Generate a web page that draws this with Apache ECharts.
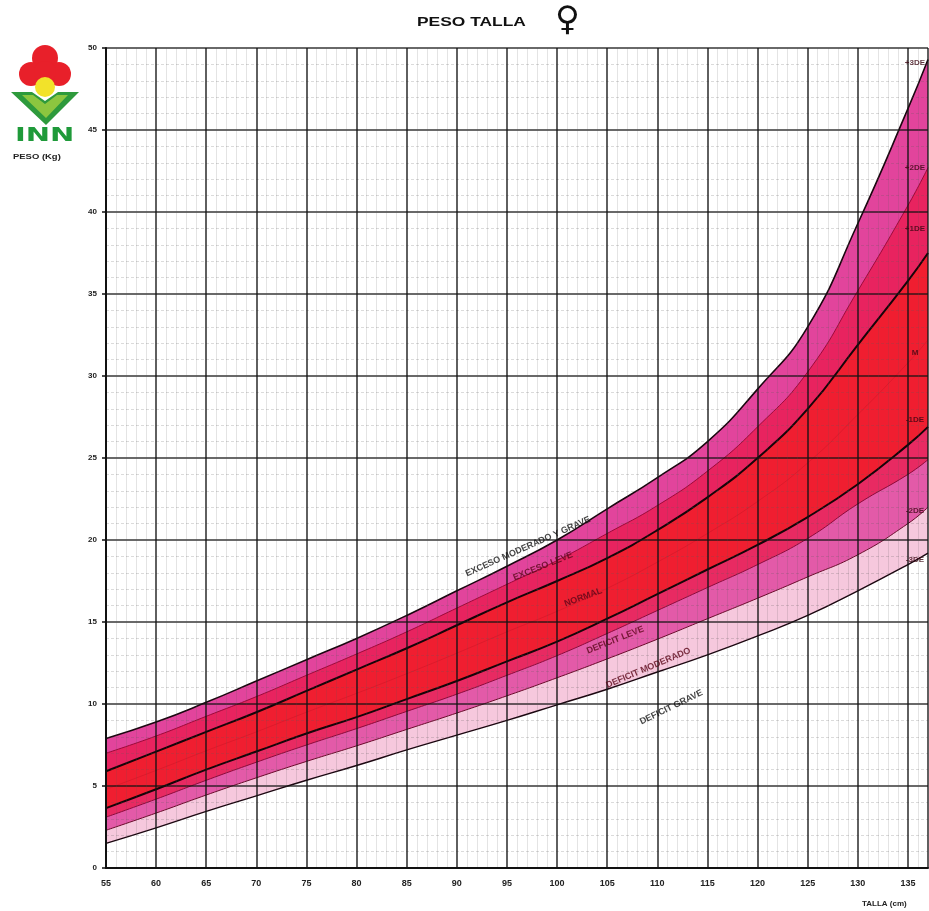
<!DOCTYPE html>
<html>
<head>
<meta charset="utf-8">
<title>Peso Talla</title>
<script src="https://cdn.jsdelivr.net/npm/echarts@6/dist/echarts.min.js"></script>
<style>
  html, body { margin: 0; padding: 0; background: #ffffff; }
  #chart { width: 929px; height: 911px; }
</style>
</head>
<body>
<div id="chart"></div>
<script>
// Talla (cm) y curvas de peso (kg) por desviación estándar
const tallas = [55, 60, 65, 70, 75, 80, 85, 90, 95, 100, 105, 110, 115, 120, 125, 130, 135, 137];
const de3   = [7.9, 8.9, 10.1, 11.4, 12.7, 14.0, 15.4, 16.9, 18.4, 20.0, 21.9, 23.8, 26.0, 29.2, 33.0, 39.3, 46.3, 49.3];
const de2   = [7.0, 8.05, 9.25, 10.45, 11.75, 13.05, 14.4, 15.85, 17.3, 18.75, 20.4, 22.1, 24.2, 26.9, 30.25, 35.2, 40.4, 42.7];
const de1   = [5.9, 7.1, 8.3, 9.5, 10.8, 12.1, 13.4, 14.8, 16.2, 17.5, 18.9, 20.6, 22.6, 25.0, 28.0, 31.9, 35.8, 37.5];
const med   = [4.8, 5.95, 7.15, 8.3, 9.5, 10.65, 11.85, 13.1, 14.4, 15.65, 17.05, 18.65, 20.4, 22.35, 24.7, 27.65, 30.8, 32.2];
const deM1  = [3.65, 4.8, 6.0, 7.1, 8.2, 9.2, 10.3, 11.4, 12.6, 13.8, 15.2, 16.7, 18.2, 19.7, 21.4, 23.4, 25.8, 26.9];
const deM15 = [3.1, 4.2, 5.35, 6.45, 7.5, 8.5, 9.55, 10.6, 11.75, 12.95, 14.3, 15.7, 17.1, 18.5, 20.1, 22.2, 24.0, 24.9];
const deM2  = [2.3, 3.35, 4.45, 5.5, 6.5, 7.45, 8.45, 9.45, 10.5, 11.6, 12.75, 13.95, 15.2, 16.45, 17.75, 19.1, 21.0, 22.0];
const deM3  = [1.5, 2.45, 3.45, 4.4, 5.35, 6.25, 7.2, 8.1, 9.0, 9.95, 10.9, 11.95, 13.0, 14.15, 15.4, 16.9, 18.5, 19.2];

// Etiquetas de las curvas al borde derecho
const curvaTexto = ['+3DE', '+2DE', '+1DE', 'M', '-1DE', '-2DE', '-3DE'];
const curvaTextoX = [135.7, 135.7, 135.7, 135.7, 135.7, 135.7, 135.7];
const curvaTextoY = [49.1, 42.7, 39.0, 31.4, 27.3, 21.8, 18.8];

// Zonas de diagnóstico
const zonaTexto = ['EXCESO MODERADO Y GRAVE', 'EXCESO LEVE', 'NORMAL', 'DEFICIT LEVE', 'DEFICIT MODERADO', 'DEFICIT GRAVE'];
const zonaX = [97.1, 98.6, 102.6, 105.8, 109.1, 111.4];
const zonaY = [19.6, 18.4, 16.5, 13.9, 12.2, 9.8];
const zonaGiro = [24, 22, 20, 22, 23, 26];

const ejeX = { min: 55, max: 137, intervalo: 5 };
const ejeY = { min: 0, max: 50, intervalo: 5 };

const fuente = '"Liberation Sans", Arial, sans-serif';

// Cada curva rellena hacia abajo con el color de la zona que tiene debajo
const curvas = [
  { nombre: '+3 DE', datos: de3,   relleno: '#e2449c', linea: '#1b0710', ancho: 1.6 },
  { nombre: '+2 DE', datos: de2,   relleno: '#e8235f', linea: '#9c0a3a', ancho: 1.0 },
  { nombre: '+1 DE', datos: de1,   relleno: '#f01e30', linea: '#160408', ancho: 2.0 },
  { nombre: 'M',     datos: med,   relleno: '#f01e30', linea: 'rgba(120,10,25,0.2)', ancho: 0.8 },
  { nombre: '-1 DE', datos: deM1,  relleno: '#e82a62', linea: '#160408', ancho: 2.0 },
  { nombre: '-1,5 DE', datos: deM15, relleno: '#e35aa8', linea: '#8c0a3a', ancho: 1.0 },
  { nombre: '-2 DE', datos: deM2,  relleno: '#f6c8dd', linea: '#6a0a2a', ancho: 1.0 },
  { nombre: '-3 DE', datos: deM3,  relleno: '#ffffff', linea: '#1b0710', ancho: 1.4 }
];

const series = curvas.map(c => ({
  type: 'line',
  name: c.nombre,
  data: tallas.map((t, i) => [t, c.datos[i]]),
  smooth: 0.5,
  symbol: 'none',
  lineStyle: { color: c.linea, width: c.ancho },
  areaStyle: { color: c.relleno, opacity: 1, origin: 'start' },
  z: 2,
  silent: true
}));

series.push({
  type: 'scatter',
  name: 'curvas',
  symbolSize: 0,
  z: 6,
  data: curvaTexto.map((t, i) => ({ value: [curvaTextoX[i], curvaTextoY[i]], nombre: t })),
  label: {
    show: true,
    formatter: p => p.data.nombre,
    fontFamily: fuente,
    fontWeight: 'bold',
    fontSize: 8,
    color: '#3a0612'
  }
});

series.push({
  type: 'scatter',
  name: 'zonas',
  symbolSize: 0,
  z: 6,
  data: zonaTexto.map((t, i) => ({
    value: [zonaX[i], zonaY[i]],
    nombre: t,
    label: { rotate: zonaGiro[i], color: (i === 0 || i === 5) ? '#111' : '#5a0618' }
  })),
  label: {
    show: true,
    formatter: p => p.data.nombre,
    fontFamily: fuente,
    fontWeight: 'bold',
    fontSize: 9,
    color: '#111'
  }
});

const chart = echarts.init(document.getElementById('chart'), null, { renderer: 'canvas' });

chart.setOption({
  animation: false,
  backgroundColor: '#ffffff',
  grid: { left: 106, top: 48, width: 822, height: 820, containLabel: false },
  xAxis: {
    type: 'value',
    min: ejeX.min, max: ejeX.max, interval: ejeX.intervalo,
    z: 3,
    axisLine: { show: true, lineStyle: { color: '#111', width: 2 } },
    axisTick: { show: false },
    axisLabel: { showMaxLabel: false, margin: 11, fontFamily: fuente, fontWeight: 'bold', fontSize: 9, color: '#222' },
    splitLine: { show: true, lineStyle: { color: 'rgba(20,20,20,0.85)', width: 1.6 } },
    minorTick: { show: false, splitNumber: 5 },
    minorSplitLine: { show: true, lineStyle: { color: 'rgba(90,90,90,0.16)', width: 1 } }
  },
  yAxis: {
    type: 'value',
    min: ejeY.min, max: ejeY.max, interval: ejeY.intervalo,
    z: 3,
    axisLine: { show: true, lineStyle: { color: '#111', width: 2 } },
    axisTick: { show: true, length: 4, lineStyle: { color: '#111', width: 1.5 } },
    axisLabel: { margin: 9, fontFamily: fuente, fontWeight: 'bold', fontSize: 8, color: '#222' },
    splitLine: { show: true, lineStyle: { color: 'rgba(20,20,20,0.85)', width: 1.6 } },
    minorTick: { show: false, splitNumber: 5 },
    minorSplitLine: { show: true, lineStyle: { color: 'rgba(90,90,90,0.22)', width: 1, type: [3, 2] } }
  },
  series: series,
  graphic: [
    { type: 'text', left: 417, top: 17, scaleX: 1.45, style: { text: 'PESO TALLA', font: 'bold 12px ' + fuente, fill: '#111' } },
    { type: 'text', left: 555, top: 4, style: { text: '♀', font: 'bold 34px "DejaVu Sans", sans-serif', fill: '#111' } },
    { type: 'text', left: 862, top: 900, style: { text: 'TALLA (cm)', font: 'bold 8px ' + fuente, fill: '#222' } },
    // logotipo
    { type: 'circle', shape: { cx: 45, cy: 58, r: 13 }, style: { fill: '#e8202a' } },
    { type: 'circle', shape: { cx: 31, cy: 74, r: 12 }, style: { fill: '#e8202a' } },
    { type: 'circle', shape: { cx: 59, cy: 74, r: 12 }, style: { fill: '#e8202a' } },
    { type: 'circle', shape: { cx: 45, cy: 72, r: 11 }, style: { fill: '#e8202a' } },
    { type: 'circle', shape: { cx: 45, cy: 87, r: 10 }, style: { fill: '#f2e22a' } },
    { type: 'polygon', shape: { points: [[11, 92], [32, 92], [45, 101], [58, 92], [79, 92], [46, 125]] }, style: { fill: '#2e9a3c' } },
    { type: 'polygon', shape: { points: [[22, 95], [33, 95], [45, 104], [57, 95], [68, 95], [46, 118]] }, style: { fill: '#8cc63f' } },
    { type: 'text', left: 15, top: 126, scaleX: 1.45, style: { text: 'INN', font: 'bold 20px "DejaVu Sans", sans-serif', fill: '#1f9a3a' } },
    { type: 'text', left: 13, top: 154, scaleX: 1.35, style: { text: 'PESO (Kg)', font: 'bold 7px ' + fuente, fill: '#222' } }
  ]
});
</script>
</body>
</html>
